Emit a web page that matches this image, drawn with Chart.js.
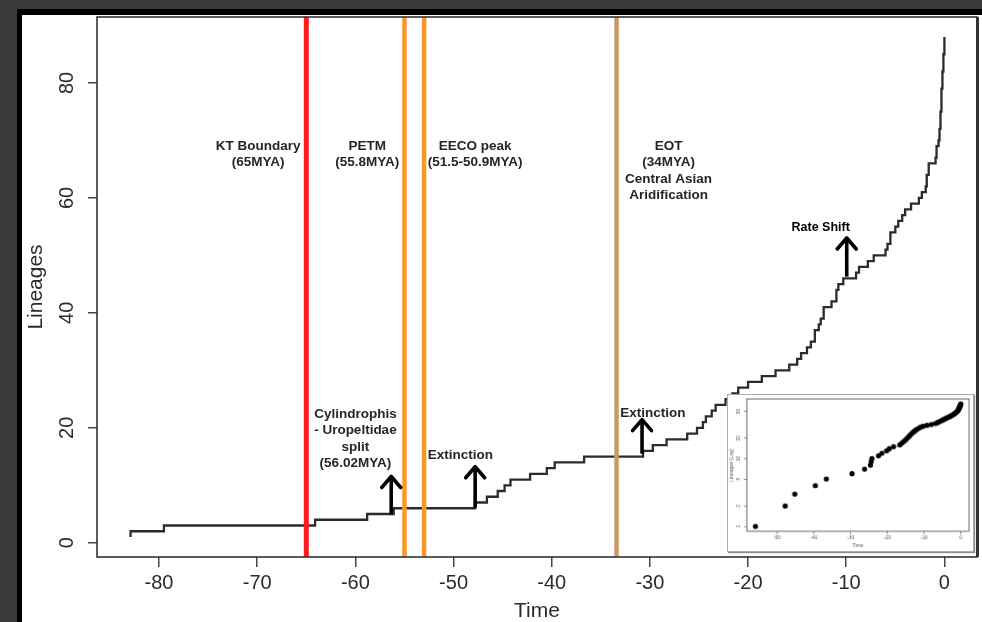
<!DOCTYPE html>
<html>
<head>
<meta charset="utf-8">
<script src="https://cdn.jsdelivr.net/npm/chart.js@4.4.1/dist/chart.umd.min.js"></script>
<style>
  html, body { margin: 0; padding: 0; width: 982px; height: 622px; overflow: hidden; background: #3b3b3b; }
  #panel { position: absolute; left: 17px; top: 9px; width: 975px; height: 623px; background: #fff;
           border-left: 5px solid #000; border-top: 6px solid #000; }
  #main { position: absolute; left: 0; top: 0; }
  #inset { position: absolute; left: 727px; top: 394px; background: #fff; border: 1px solid #aaa;
           box-shadow: 1px 1px 1px rgba(0,0,0,0.45); }
</style>
</head>
<body>
<div id="panel"></div>
<canvas id="main" width="982" height="622"></canvas>
<canvas id="inset" width="247" height="158"></canvas>
<script>
// main lineage-through-time curve: time (MYA, negative) where lineage count steps up
const stepTimes = [-82.9, -82.9, -79.5, -64.1, -58.8, -56.1, -47.8, -46.6, -45.5, -44.8,
  -44.2, -42.2, -40.5, -39.7, -36.7, -30.7, -29.7, -28.3, -26.2, -25.2,
  -24.6, -24.3, -23.7, -23.3, -22.3, -21.6, -21.0, -20.0, -18.6, -17.2,
  -15.8, -15.0, -14.6, -14.0, -13.6, -13.2, -12.8, -12.6, -12.3, -11.5,
  -11.0, -10.8, -10.3, -9.0, -8.7, -7.8, -7.2, -6.0, -5.8, -5.5,
  -5.0, -4.7, -4.3, -4.0, -3.4, -2.6, -2.3, -1.9, -1.8, -1.6,
  -0.9, -0.8, -0.6, -0.5, -0.4, -0.3, -0.2, -0.1, 0];
const stepLineages = [1, 2, 3, 4, 5, 6, 7, 8, 9, 10,
  11, 12, 13, 14, 15, 16, 17, 18, 19, 20,
  21, 22, 23, 24, 25, 26, 27, 28, 29, 30,
  31, 32, 33, 34, 35, 37, 38, 39, 41, 42,
  44, 45, 46, 47, 48, 49, 50, 51, 52, 54,
  55, 56, 57, 58, 59, 60, 61, 62, 64, 66,
  67, 69, 70, 72, 75, 79, 82, 85, 88];

const xTicks = [-80, -70, -60, -50, -40, -30, -20, -10, 0];
const yTicks = [0, 20, 40, 60, 80];

// vertical event lines
const eventTimes = [-65, -55, -53, -33.4];
const eventColors = ['#ff1c1c', '#f8982a', '#f8982a', '#c99a68'];

// inset (log lineages)
const insetTimes = [-55.9, -47.8, -45.2, -39.6, -36.6, -29.6, -26.2, -24.6, -24.4, -24.2,
  -22.4, -21.5, -20.2, -19.5, -18.3, -16.6, -16.0, -15.5, -15.0, -14.6,
  -14.2, -13.9, -13.5, -13.2, -12.8, -12.4, -12.0, -11.5, -11.0, -10.3,
  -9.2, -8.0, -6.9, -6.3, -5.9, -5.4, -5.0, -4.6, -4.2, -3.8,
  -3.3, -2.9, -2.6, -2.3, -2.0, -1.7, -1.5, -1.3, -1.1, -0.95,
  -0.85, -0.75, -0.65, -0.55, -0.5, -0.45, -0.4, -0.3, -0.25, -0.2,
  -0.15, -0.1, -0.05, 0];
const insetLineages = [1, 2, 3, 4, 5, 6, 7, 8, 9, 10,
  11, 12, 13, 14, 15, 16, 17, 18, 19, 20,
  21, 22, 23, 24, 25, 26, 27, 28, 29, 30,
  31, 32, 33, 34, 35, 36, 37, 38, 39, 40,
  41, 42, 43, 44, 45, 46, 47, 48, 49, 50,
  51, 52, 53, 54, 55, 56, 57, 58, 59, 60,
  61, 62, 63, 64];
const insetXTicks = [-50, -40, -30, -20, -10, 0];
const insetYTicks = [1, 2, 5, 10, 20, 50];

// text annotations, anchored in data units (time, lineages of first line)
const notes = [
  { lines: ['KT Boundary', '(65MYA)'], t: -69.9, n: 69.0 },
  { lines: ['PETM', '(55.8MYA)'], t: -58.8, n: 69.0 },
  { lines: ['EECO peak', '(51.5-50.9MYA)'], t: -47.8, n: 69.0 },
  { lines: ['EOT', '(34MYA)', 'Central Asian', 'Aridification'], t: -28.1, n: 69.0 },
  { lines: ['Cylindrophis', '- Uropeltidae', 'split', '(56.02MYA)'], t: -60.0, n: 22.4 },
  { lines: ['Extinction'], t: -49.3, n: 15.3 },
  { lines: ['Extinction'], t: -29.7, n: 22.6 },
  { lines: ['Rate Shift'], t: -12.6, n: 54.8, small: true }
];
const arrows = [
  { t: -56.35, from: 4.9, to: 11.7 },
  { t: -47.8, from: 6.1, to: 13.4 },
  { t: -30.8, from: 15.5, to: 21.6 },
  { t: -9.95, from: 46.3, to: 53.2 }
];

const FONT = "'Liberation Sans', Arial, Helvetica, sans-serif";

const rotatedYLabels = {
  id: 'rotatedYLabels',
  afterDraw(chart, args, opts) {
    const { ctx, scales: { y } } = chart;
    ctx.save();
    ctx.fillStyle = opts.color;
    ctx.font = opts.size + 'px ' + FONT;
    ctx.textAlign = 'center';
    ctx.textBaseline = 'middle';
    y.ticks.forEach(tk => {
      const py = y.getPixelForValue(tk.value);
      ctx.save();
      ctx.translate(opts.x, py);
      ctx.rotate(-Math.PI / 2);
      ctx.fillText(String(tk.value), 0, 0);
      ctx.restore();
    });
    ctx.restore();
  }
};

const frameBox = {
  id: 'frameBox',
  afterDraw(chart, args, opts) {
    const { ctx, chartArea: a } = chart;
    ctx.save();
    ctx.strokeStyle = opts.color;
    ctx.lineWidth = opts.width;
    ctx.strokeRect(a.left, a.top, a.right - a.left, a.bottom - a.top);
    if (opts.rightWidth) {
      ctx.lineWidth = opts.rightWidth;
      ctx.beginPath();
      ctx.moveTo(a.right + 0.5, a.top);
      ctx.lineTo(a.right + 0.5, a.bottom);
      ctx.stroke();
    }
    ctx.restore();
  }
};

const annotate = {
  id: 'annotate',
  afterDatasetsDraw(chart) {
    const { ctx, chartArea: a, scales: { x, y } } = chart;
    ctx.save();
    eventTimes.forEach((t, i) => {
      const px = x.getPixelForValue(t);
      ctx.fillStyle = eventColors[i];
      const w = i === 0 ? 5 : 4.5;
      ctx.fillRect(px - w / 2, a.top, w, a.bottom - a.top);
    });

    ctx.textAlign = 'center';
    ctx.textBaseline = 'middle';
    notes.forEach(nt => {
      ctx.fillStyle = nt.small ? '#000' : '#262626';
      ctx.font = 'bold ' + (nt.small ? 12.5 : 13.5) + 'px ' + FONT;
      const px = x.getPixelForValue(nt.t);
      const py = y.getPixelForValue(nt.n);
      nt.lines.forEach((ln, k) => ctx.fillText(ln, px, py + k * 16.4));
    });

    ctx.strokeStyle = '#000';
    ctx.lineWidth = 3.6;
    arrows.forEach(ar => {
      const px = x.getPixelForValue(ar.t);
      const y0 = y.getPixelForValue(ar.from);
      const y1 = y.getPixelForValue(ar.to);
      ctx.lineCap = 'butt';
      ctx.beginPath();
      ctx.moveTo(px, y0);
      ctx.lineTo(px, y1 + 1);
      ctx.stroke();
      ctx.lineJoin = 'round';
      ctx.lineCap = 'round';
      ctx.beginPath();
      ctx.moveTo(px - 9.5, y1 + 12);
      ctx.lineTo(px, y1 + 1);
      ctx.lineTo(px + 9.5, y1 + 12);
      ctx.stroke();
    });
    ctx.restore();
  }
};

new Chart(document.getElementById('main'), {
  type: 'line',
  data: {
    datasets: [{
      data: stepTimes.map((t, i) => ({ x: t, y: stepLineages[i] })),
      stepped: 'before',
      borderColor: '#2b2b2b',
      borderWidth: 2.3,
      pointRadius: 0,
      fill: false
    }]
  },
  options: {
    responsive: false,
    animation: false,
    devicePixelRatio: 1,
    layout: { padding: { top: 17, right: 5, left: 0, bottom: 0 } },
    plugins: {
      legend: { display: false },
      tooltip: { enabled: false },
      rotatedYLabels: { x: 67, size: 20, color: '#2a2a2a' },
      frameBox: { color: '#333', width: 1.6, rightWidth: 3 }
    },
    scales: {
      x: {
        type: 'linear',
        min: -86.32,
        max: 3.32,
        afterBuildTicks: s => { s.ticks = xTicks.map(v => ({ value: v })); },
        afterFit: s => { s.height = 65; },
        ticks: { callback: v => String(v), autoSkip: false, maxRotation: 0, padding: 4,
                 color: '#2a2a2a', font: { family: FONT, size: 20 } },
        grid: { drawOnChartArea: false, drawTicks: true, tickLength: 10, color: '#444', lineWidth: 1.5 },
        border: { display: false },
        title: { display: true, text: 'Time', color: '#2a2a2a', padding: { top: 0, bottom: 0 },
                 font: { family: FONT, size: 21, lineHeight: 1 } }
      },
      y: {
        min: -2.48,
        max: 91.48,
        afterBuildTicks: s => { s.ticks = yTicks.map(v => ({ value: v })); },
        afterFit: s => { s.width = 97; },
        ticks: { display: false },
        grid: { drawOnChartArea: false, drawTicks: true, tickLength: 9, color: '#444', lineWidth: 1.5 },
        border: { display: false },
        title: { display: true, text: 'Lineages', color: '#2a2a2a', padding: { top: 25.5, bottom: 0 },
                 font: { family: FONT, size: 21, lineHeight: 1 } }
      }
    }
  },
  plugins: [annotate, rotatedYLabels, frameBox]
});

new Chart(document.getElementById('inset'), {
  type: 'scatter',
  data: {
    datasets: [{
      data: insetTimes.map((t, i) => ({ x: t, y: insetLineages[i] })),
      pointRadius: 2.6,
      backgroundColor: '#000',
      borderWidth: 0
    }]
  },
  options: {
    responsive: false,
    animation: false,
    devicePixelRatio: 1,
    layout: { padding: { top: 4, right: 4, left: 0, bottom: 0 } },
    plugins: {
      legend: { display: false },
      tooltip: { enabled: false },
      rotatedYLabels: { x: 11, size: 5, color: '#555' },
      frameBox: { color: '#666', width: 1 }
    },
    scales: {
      x: {
        type: 'linear',
        min: -58.24,
        max: 2.24,
        afterBuildTicks: s => { s.ticks = insetXTicks.map(v => ({ value: v })); },
        afterFit: s => { s.height = 20; },
        ticks: { callback: v => String(v), autoSkip: false, maxRotation: 0, padding: 1,
                 color: '#555', font: { family: FONT, size: 5 } },
        grid: { drawOnChartArea: false, drawTicks: true, tickLength: 3, color: '#777', lineWidth: 0.8 },
        border: { display: false },
        title: { display: true, text: 'Time', color: '#555', padding: { top: 0, bottom: 2.5 },
                 font: { family: FONT, size: 5, lineHeight: 1 } }
      },
      y: {
        type: 'logarithmic',
        min: 0.847,
        max: 76,
        afterBuildTicks: s => { s.ticks = insetYTicks.map(v => ({ value: v })); },
        afterFit: s => { s.width = 19; },
        ticks: { display: false },
        grid: { drawOnChartArea: false, drawTicks: true, tickLength: 3, color: '#777', lineWidth: 0.8 },
        border: { display: false },
        title: { display: true, text: 'Lineages (Log)', color: '#555', padding: { top: 1.5, bottom: 0 },
                 font: { family: FONT, size: 5, lineHeight: 1 } }
      }
    }
  },
  plugins: [rotatedYLabels, frameBox]
});
</script>
</body>
</html>
